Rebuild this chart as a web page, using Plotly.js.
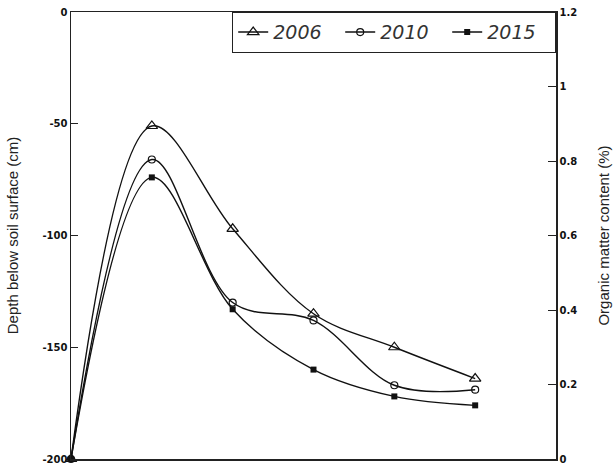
<!DOCTYPE html>
<html>
<head>
<meta charset="utf-8">
<script src="https://cdn.plot.ly/plotly-3.0.1.min.js"></script>
<style>
  html, body { margin: 0; padding: 0; background: #fff; }
  #chart { width: 613px; height: 470px; }
</style>
</head>
<body>
<div id="chart"></div>
<script>
// Sampling positions along the profile (x axis is not labelled)
const positions = [0, 1, 2, 3, 4, 5];

// Depth below soil surface (cm) for each survey year
const depth2006 = [-200, -51, -97, -135, -150, -164];
const depth2010 = [-200, -66, -130, -138, -167, -169];
const depth2015 = [-200, -74, -133, -160, -172, -176];

// Axis ticks
const depthTicks = [0, -50, -100, -150, -200];
const depthTickText = ['0', '-50', '-100', '-150', '-200'];
const omTicks = [0, 0.2, 0.4, 0.6, 0.8, 1, 1.2];
const omTickText = ['0', '0.2', '0.4', '0.6', '0.8', '1', '1.2'];

const lineStyle = { color: '#111', width: 1.4, shape: 'spline', smoothing: 1 };

const traces = [
  {
    name: '2006', x: positions, y: depth2006, type: 'scatter', mode: 'lines+markers',
    line: lineStyle, cliponaxis: false,
    marker: { symbol: 'triangle-up-open', size: 10, color: '#111', line: { width: 1.2 } }
  },
  {
    name: '2010', x: positions, y: depth2010, type: 'scatter', mode: 'lines+markers',
    line: lineStyle, cliponaxis: false,
    marker: { symbol: 'circle-open', size: 7, color: '#111', line: { width: 1.2 } }
  },
  {
    name: '2015', x: positions, y: depth2015, type: 'scatter', mode: 'lines+markers',
    line: lineStyle, cliponaxis: false,
    marker: { symbol: 'square', size: 6, color: '#111' }
  },
  // invisible trace that carries the organic matter axis
  {
    x: [positions[0]], y: [0], yaxis: 'y2', type: 'scatter', mode: 'markers',
    marker: { opacity: 0 }, showlegend: false, hoverinfo: 'skip'
  }
];

const tickFont = { family: 'DejaVu Sans, sans-serif', size: 10, color: '#111', weight: 'bold' };
const titleFont = { family: 'Liberation Sans Narrow, Liberation Sans, Arial, sans-serif', size: 15, color: '#222' };

const layout = {
  width: 613, height: 470,
  margin: { l: 71, r: 57, t: 12, b: 11 },
  paper_bgcolor: '#fff', plot_bgcolor: '#fff',
  showlegend: true,
  legend: {
    orientation: 'h', x: 1, xanchor: 'right', y: 1, yanchor: 'top',
    bordercolor: '#222', borderwidth: 1.2, bgcolor: '#fff',
    font: { family: 'DejaVu Sans, sans-serif', size: 19, color: '#333', style: 'italic' },
    entrywidth: 62, itemwidth: 30, tracegroupgap: 0
  },
  xaxis: {
    range: [0, 6], showgrid: false, zeroline: false,
    showline: true, linecolor: '#222', linewidth: 1.5, mirror: true,
    ticks: '', showticklabels: false
  },
  yaxis: {
    range: [-200, 0], tickvals: depthTicks, ticktext: depthTickText,
    ticks: 'inside', ticklen: 7, tickcolor: '#222', tickwidth: 1,
    showgrid: false, zeroline: false,
    showline: true, linecolor: '#222', linewidth: 1.5,
    tickfont: tickFont,
    title: { text: 'Depth below soil surface (cm)', font: titleFont, standoff: 20 }
  },
  yaxis2: {
    overlaying: 'y', side: 'right', range: [0, 1.2],
    tickvals: omTicks, ticktext: omTickText,
    ticks: 'inside', ticklen: 8, tickcolor: '#222', tickwidth: 1,
    showgrid: false, zeroline: false,
    showline: true, linecolor: '#222', linewidth: 1.5,
    tickfont: tickFont,
    title: { text: 'Organic matter content (%)', font: titleFont, standoff: 22 }
  }
};

Plotly.newPlot('chart', traces, layout, { displayModeBar: false, staticPlot: true });
</script>
</body>
</html>
